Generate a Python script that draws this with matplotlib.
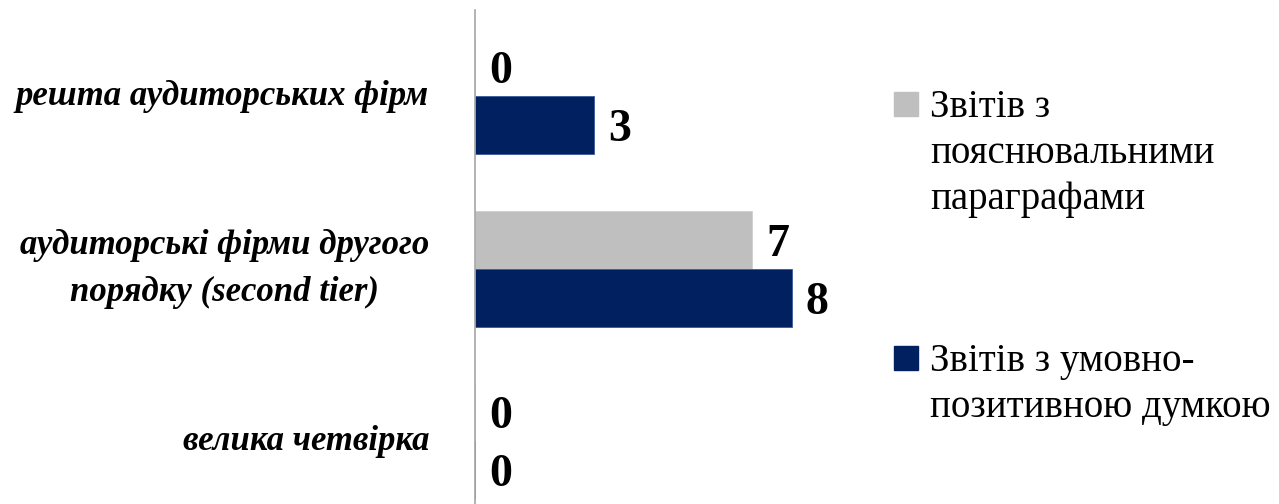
import matplotlib.pyplot as plt
import numpy as np
from matplotlib.transforms import blended_transform_factory
from matplotlib.patches import Rectangle

categories = ["решта аудиторських фірм",
              "аудиторські фірми другого\nпорядку (second tier)",
              "велика четвірка"]
explanatory = [0, 7, 0]   # Звітів з пояснювальними параграфами
qualified = [3, 8, 0]     # Звітів з умовно-позитивною думкою
series_labels = ["Звітів з\nпояснювальними\nпараграфами",
                 "Звітів з умовно-\nпозитивною думкою"]
colors = ["#BFBFBF", "#002060"]

W, H = 1279, 504
fig = plt.figure(figsize=(W / 100, H / 100), dpi=100)
# axis line at x=475px, 9 units wide; rows extend a bit past the bottom edge
ax = fig.add_axes([475 / W, -23.75 / H, 9 * 39.6 / W, 517.75 / H])

y = np.arange(len(categories))
h = 0.336
ax.barh(y - h / 2, explanatory, height=h, color=colors[0], edgecolor="#D0D0D0", linewidth=0.6)
ax.barh(y + h / 2, qualified, height=h, color=colors[1], edgecolor="#3A5A9A", linewidth=0.6)

ax.set_xlim(0, 9)
ax.set_ylim(2.5, -0.5)

for vals, off in ((explanatory, -h / 2), (qualified, h / 2)):
    for yi, v in zip(y, vals):
        ax.annotate(str(v), (v, yi + off), xytext=(10, 0), textcoords="offset points",
                    ha="left", va="center_baseline", fontsize=33, fontweight="bold",
                    family="Liberation Serif", color="black")

for s in ("top", "right", "bottom"):
    ax.spines[s].set_visible(False)
ax.spines["left"].set_color("#A6A6A6")
ax.spines["left"].set_linewidth(1.2)
ax.set_xticks([])
ax.set_yticks([])

# category labels to the left of the axis line
trans = blended_transform_factory(ax.transAxes, ax.transData)
for yi, cat in zip(y, categories):
    ax.text(-46 / (9 * 39.6), yi, cat, transform=trans, ha="right", va="center",
            multialignment="center", fontsize=25, fontweight="bold", style="italic",
            family="Liberation Serif", linespacing=1.55)

# legend on the right
legend_rows = [(104, 0), (358, 1)]
for ytop, i in legend_rows:
    fig.patches.append(Rectangle((894 / W, 1 - (ytop + 12) / H), 24 / W, 24 / H,
                                 transform=fig.transFigure, color=colors[i]))
    fig.text(930 / W, 1 - (ytop - 15) / H, series_labels[i], ha="left", va="top",
             fontsize=28, family="Liberation Serif", linespacing=1.33)

fig.savefig("out.png", dpi=100)
